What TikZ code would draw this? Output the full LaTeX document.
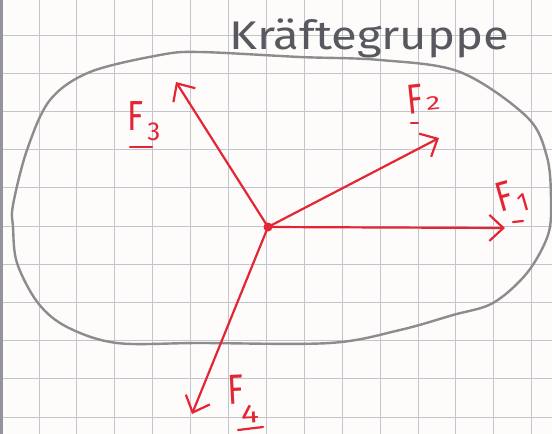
\documentclass[tikz,border=0pt]{standalone}
\usepackage{fontspec}
\usepackage{graphicx}
\setmainfont{Fira Sans}
\usetikzlibrary{arrows.meta}
\definecolor{pen}{RGB}{228,38,52}
\definecolor{pencil}{RGB}{140,140,140}
\definecolor{ink}{RGB}{88,88,94}
\definecolor{gridc}{RGB}{196,196,206}
\definecolor{paper}{RGB}{253,252,250}
\newcommand{\bigF}{\scalebox{0.78}[1]{\fontsize{42}{42}\selectfont F}}
\newcommand{\subnum}[2]{\raisebox{#1}{\fontsize{26}{26}\selectfont #2}}
\tikzset{
  gridline/.style={draw=gridc, line width=0.9pt},
  force/.style={draw=pen, line width=2.2pt, line cap=round,
    -{Straight Barb[length=14pt,width=26pt,line width=2.2pt]}},
  lbl/.style={text=pen, inner sep=0pt, anchor=base west},
  uline/.style={draw=pen, line width=2.2pt, line cap=round},
  rim/.style={draw=pencil, line width=2.4pt, line join=round},
}
\begin{document}
\begin{tikzpicture}[x=1pt,y=-1pt]
\fill[paper] (0,0) rectangle (552,434);
\useasboundingbox (0,0) rectangle (552,434);
\foreach \i in {0,...,13} \draw[gridline] ({39+37.9*\i},0) -- ({39+37.9*\i},434);
\foreach \j in {0,...,10} \draw[gridline] (0,{35+38.2*\j}) -- (552,{35+38.2*\j});
\fill[gridc!75!black] (0,0) rectangle (3,434);
% the closed outline of the group
\draw[rim] plot[smooth cycle, tension=0.55] coordinates {
  (13,205) (27,150) (50,100) (90,72) (160,55) (200,52) (300,57) (380,60)
  (460,72) (527,117) (547,157) (551,200) (548,235) (527,273) (493,303)
  (453,315) (400,330) (330,343) (200,343) (117,343) (67,327) (38,303)
  (17,263) (13,227)};
\node[text=ink, anchor=base west, inner sep=0pt,
  font=\fontsize{40}{40}\selectfont] (title) at (229,49)
  {\scalebox{1.18}[1]{Kräftegruppe}};
% forces
\coordinate (O) at (268,227);
\coordinate (t1) at (505,228);
\coordinate (t2) at (439,138);
\coordinate (t3) at (176,82);
\coordinate (t4) at (192,414);
\draw[force] (O) -- (t1);
\draw[force] (O) -- (t2);
\draw[force] (O) -- (t3);
\draw[force] (O) -- (t4);
\fill[pen] (O) circle (4.5);
% labels
\node[lbl, rotate=16] (l1) at (500,213) {\bigF\kern3.5pt\subnum{-5pt}{1}};
\node[lbl, rotate=6] (l2) at (408,115) {\bigF\kern3pt\scalebox{1.1}[0.75]{\subnum{3pt}{2}}};
\node[lbl] (l3) at (127,130) {\bigF\kern4pt\subnum{-10pt}{3}};
\node[lbl, rotate=3] (l4) at (228,405) {\bigF\kern-4pt\subnum{-19pt}{\scalebox{1.3}[1]{4}}};
\draw[uline] ([shift={(13,9)}]l1.base west) -- ([shift={(23,8)}]l1.base west);
\draw[uline] ([shift={(3,8)}]l2.base west) -- ([shift={(10,8)}]l2.base west);
\draw[uline] ([shift={(3,17)}]l3.base west) -- ([shift={(25,17)}]l3.base west);
\draw[uline] ([shift={(10,25)}]l4.base west) -- ([shift={(35,22)}]l4.base west);
\end{tikzpicture}
\end{document}
